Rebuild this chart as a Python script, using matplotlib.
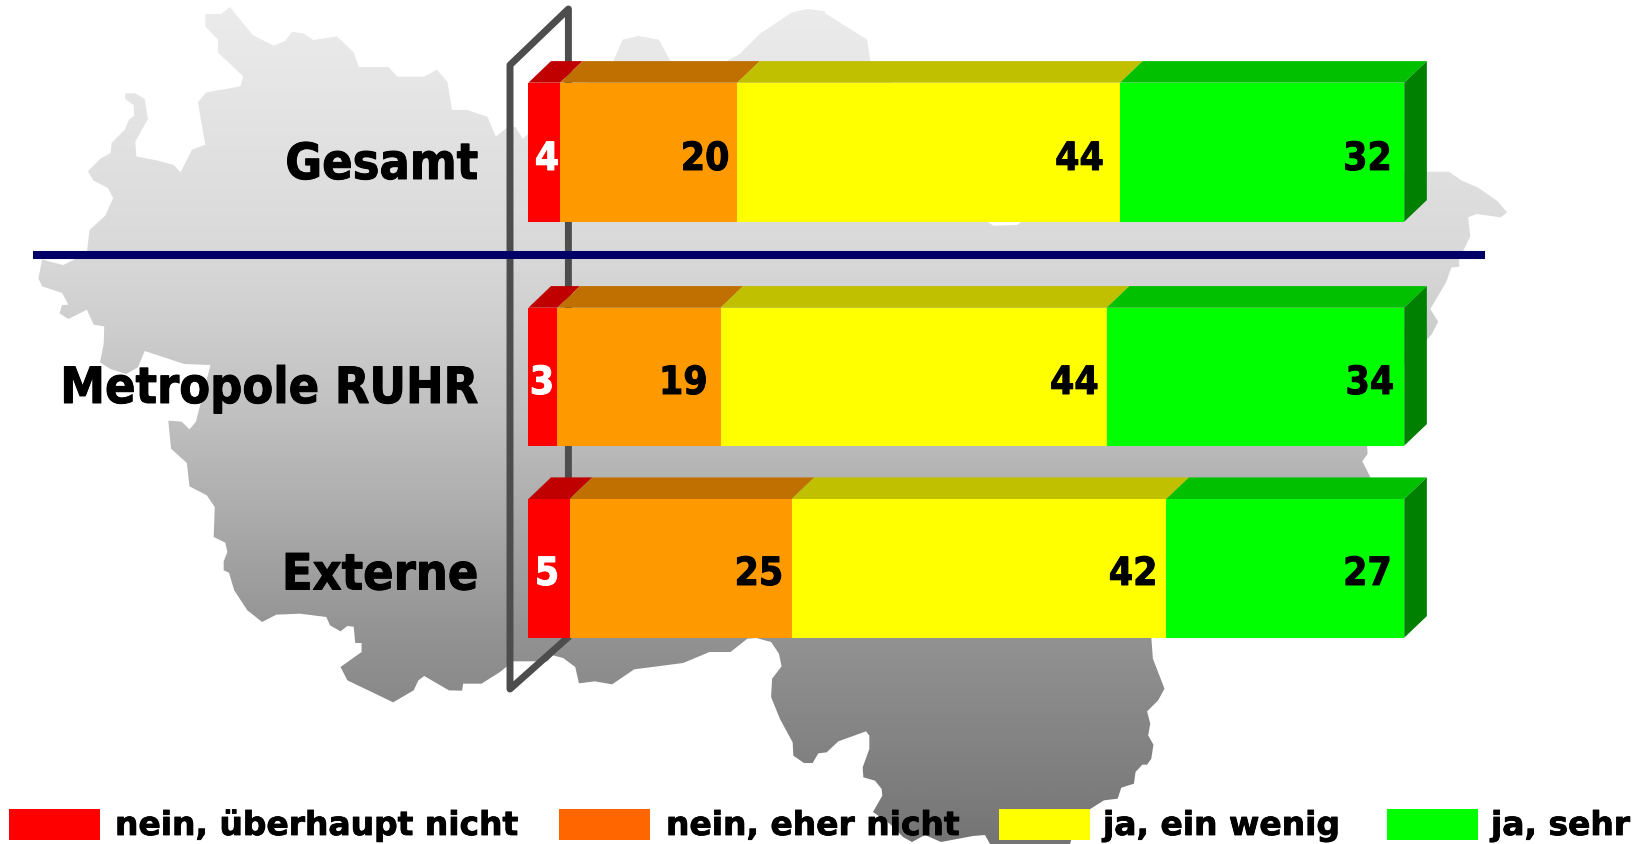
import numpy as np
import matplotlib
matplotlib.use('Agg')
import matplotlib.pyplot as plt
import matplotlib.patheffects as pe
from matplotlib.colors import LinearSegmentedColormap
from matplotlib.patches import Polygon, Rectangle

W, H = 1649, 845

# ---------- data ----------
categories = ['Gesamt', 'Metropole RUHR', 'Externe']
series_names = ['nein, überhaupt nicht', 'nein, eher nicht', 'ja, ein wenig', 'ja, sehr']
nein_ueberhaupt = [3.6, 3.3, 4.7]
nein_eher = [20.2, 18.6, 25.3]
ja_wenig = [43.6, 44.0, 42.7]
ja_sehr = [32.4, 33.9, 27.1]
lab_nein_ueberhaupt = [4, 3, 5]
lab_nein_eher = [20, 19, 25]
lab_ja_wenig = [44, 44, 42]
lab_ja_sehr = [32, 34, 27]

# ---------- styles / layout ----------
face = ['#ff0000', '#ff9900', '#ffff00', '#00ff00']
top = ['#c00000', '#c07000', '#c0c000', '#00c000']
side = '#008000'
legend_face = ['#ff0000', '#ff6600', '#ffff00', '#00ff00']
bar_tops = [83.7, 308.7, 500.0]
bar_bottoms = [222.7, 446.7, 638.7]
x0_px, x100_px = 528.4, 1406.0
ppu = (x100_px - x0_px) / 100
depth_x, depth_y = 22.6 / ppu, 21.6
cat_baselines = [180, 404, 590.5]
val_baselines = [171, 395, 586]
gaps = [[8, 16, 12.5], [13, 8, 10], [8.5, 9, 12.5]]
first_centers = [547, 542, 547]
legend_boxes = [9, 559, 999, 1387]
legend_text = [115, 666, 1103, 1491]

# ---------- background map outline (reference pixel geometry) ----------
def z(pts, ox=0, oy=0, sx=1 / 1.9, sy=1 / 3):
    return [(ox + a * sx, oy + b * sy) for a, b in pts]

outline = []
outline += z([(390,45),(420,45),(437,24),(480,108),(520,140),(542,126),(555,98),(578,104),(595,123),(640,112),
              (672,160),(682,204),(738,204),(755,233),(806,233),(830,212),(850,248),(859,333),(888,333),(926,353),
              (942,413),(968,380),(980,385),(993,420),(1000,410),
              (1165,187),(1183,122),(1213,111),(1252,122),(1274,187),(1380,187),(1405,165),(1445,103),(1505,40),
              (1535,30),(1568,37)])
outline += z([(0,42),(80,122),(86,187),(290,500),(310,670),(320,680),(365,678),(372,670),(500,500),(1147,518),
              (1185,518),(1210,545),(1240,565),(1278,607),(1296,640),(1284,655),(1238,645),(1222,655),(1226,712),
              (1205,780),(1205,803),(1190,806),(1180,850),(1150,930),(1165,968),(1153,1005),(1100,1100)], ox=825)
outline += z([(1030,71),(1031,95),(1021,118),(1036,165),(800,400),(620,647),(623,710),(645,800),(633,835),(612,868),
              (618,905),(614,940),(624,968),(620,1010),(612,1028),(603,1028),(590,1050),(587,1085),(563,1097),
              (556,1130),(530,1135),(505,1160),(480,1190)], ox=825, oy=423)
outline += [(1070,845),(990,845),(985,836),(973,837),(957,840),(941,843),(925,836),(912,843),(903,838),(890,825),(873,813)]
outline += z([(307,290),(305,270),(285,245),(250,235),(248,205),(268,150),(268,110),(258,97),(175,127),(140,160),
              (115,163),(98,192),(72,192),(40,170),(38,130),(0,60)], ox=780, oy=700, sx=1/3)
outline += z([(1465,825),(1467,770),(1485,733),(1480,695),(1465,660),(1437,648),(1420,650),(1388,690),(1348,690),
              (1298,723),(1205,742),(1163,787),(1130,778),(1100,784),(1093,735),(1070,708),(1050,700),(1040,718),
              (975,718),(950,750),(915,785),(880,785),(878,806),(853,805),(806,762),(795,775),(786,805),(747,841),
              (660,775),(647,735),(687,690),(687,663),(675,663),(672,614),(660,612),(647,628),(627,610),(620,585),
              (570,575),(525,578),(498,600),(470,565),(445,505),(435,452),(425,445),(425,418),(432,390),(428,362),
              (406,345),(408,255),(393,220),(360,193),(355,123),(325,80),(320,0)], oy=423)
outline += z([(320,1265),(345,1268),(360,1291),(372,1269),(400,1098),(350,1095),(275,1056),(262,1105),(240,1125),
              (210,1110),(190,1090),(197,1035),(198,982),(178,977),(165,932),(130,960),(113,943),(118,918),(130,917),
              (118,882),(80,862),(73,838),(80,782),(120,798),(165,763),(170,693),(200,650),(215,597),(205,567),
              (178,545),(167,517),(190,480),(210,462),(212,432),(237,392),(245,362),(255,350),(254,318),(238,300),
              (238,283),(257,283),(275,300),(281,360),(257,428),(259,472),(300,485),(330,498),(343,520),(365,452),
              (390,437),(376,310),(392,280),(457,262),(462,232),(414,160),(414,122),(390,82)])

fig = plt.figure(figsize=(W / 100, H / 100), dpi=100, facecolor='white')

# background axes in pixel coordinates
bg = fig.add_axes([0, 0, 1, 1], zorder=0)
bg.set_xlim(0, W)
bg.set_ylim(H, 0)
bg.axis('off')
stops = [(0.0, '#ececec'), (0.30, '#d9d9d9'), (0.50, '#bfbfbf'), (0.75, '#939393'), (1.0, '#757575')]
cmap = LinearSegmentedColormap.from_list('map', stops)
im = bg.imshow(np.linspace(0, 1, 512)[:, None], cmap=cmap, extent=(0, W, H, 0), aspect='auto', zorder=1)
clip = Polygon(outline, closed=True, transform=bg.transData, facecolor='none', edgecolor='none')
bg.add_patch(clip)
im.set_clip_path(clip)
bg.set_xlim(0, W)
bg.set_ylim(H, 0)

# the grey frame behind the bars
frame = Polygon([(510, 690), (510, 66), (568.4, 10), (568.4, 638)], closed=True, fill=False,
                edgecolor='#4d4d4d', linewidth=5.0, joinstyle='round', zorder=2)
bg.add_patch(frame)
bg.plot([33, 1485.5], [256, 256], color='#000066', lw=5.8, solid_capstyle='butt', zorder=3)

# chart axes: x in percent, y in pixels
ax = fig.add_axes([0, 0, 1, 1], zorder=1)
ax.patch.set_alpha(0)
ax.set_xlim(-x0_px / ppu, (W - x0_px) / ppu)
ax.set_ylim(H, 0)
ax.axis('off')

series = [nein_ueberhaupt, nein_eher, ja_wenig, ja_sehr]
labels = [lab_nein_ueberhaupt, lab_nein_eher, lab_ja_wenig, lab_ja_sehr]
font = dict(family='DejaVu Sans', stretch='condensed', weight='bold')
black_stroke = [pe.withStroke(linewidth=0.7, foreground='black')]
white_stroke = [pe.withStroke(linewidth=0.7, foreground='white')]

for i, cat in enumerate(categories):
    t, b = bar_tops[i], bar_bottoms[i]
    left = 0.0
    for k, vals in enumerate(series):
        v = vals[i]
        ax.barh((t + b) / 2, v, height=b - t, left=left, color=face[k], linewidth=0, zorder=4)
        ax.fill([left, left + v, left + v + depth_x, left + depth_x], [t, t, t - depth_y, t - depth_y],
                color=top[k], linewidth=0, zorder=3)
        right = left + v
        if k == 0:
            ax.text(first_centers[i] / ppu - x0_px / ppu, val_baselines[i], str(labels[k][i]), color='white',
                    ha='center', va='baseline', fontsize=28, zorder=5, path_effects=white_stroke, **font)
        else:
            ax.text(right - gaps[i][k - 1] / ppu, val_baselines[i], str(labels[k][i]), color='black',
                    ha='right', va='baseline', fontsize=28, zorder=5, path_effects=black_stroke, **font)
        left = right
    ax.fill([left, left + depth_x, left + depth_x, left], [t, t - depth_y, b - depth_y, b],
            color=side, linewidth=0, zorder=3)
    bg.text(478, cat_baselines[i], cat, color='black', ha='right', va='baseline', fontsize=36, zorder=6,
            path_effects=black_stroke, **font)

# legend
legend_stroke = [pe.withStroke(linewidth=0.6, foreground='black')]
for k, name in enumerate(series_names):
    bg.add_patch(Rectangle((legend_boxes[k], 810), 91, 30.7, facecolor=legend_face[k], edgecolor='none', zorder=6))
    bg.text(legend_text[k], 836, name, color='black', ha='left', va='baseline', fontsize=23.7,
            family='DejaVu Sans', weight='bold', zorder=6, path_effects=legend_stroke)

fig.savefig('out.png', dpi=100)
